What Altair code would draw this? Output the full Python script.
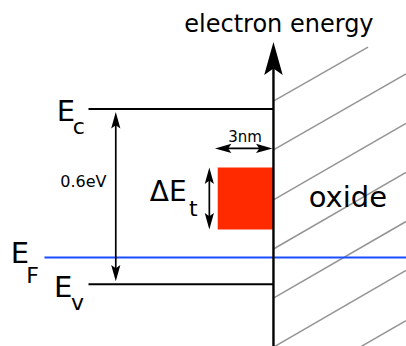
import altair as alt
import pandas as pd

# ---- energies in eV above the valence-band edge, positions in nm from the oxide interface ----
E_C = 0.6
E_V = 0.0
E_F = 0.092

# trap band next to the interface
TRAP_E = [0.188, 0.400]
TRAP_X = [-2.86, 0.0]

# tunnelling distance marker
TUNNEL_X = [-3.0, 0.0]
TUNNEL_E = 0.465

# horizontal extent of the band edges
BAND_X = [-9.49, 0.0]
FERMI_X = [-11.75, 6.8]

# vertical arrows
GAP_ARROW_X = -8.09
TRAP_ARROW_X = -3.29

# energy axis drawn at the interface
AXIS_E = [-0.211, 0.829]

# oxide hatching strokes (start / end)
HATCH_X0 = [0.0, 0.0, 0.0, 0.0, 0.0, 0.0, 0.0]
HATCH_Y0 = [0.627, 0.460, 0.289, 0.121, -0.047, -0.215, -0.386]
HATCH_X1 = [4.85, 6.8, 6.8, 6.8, 6.8, 6.8, 6.8]
HATCH_Y1 = [0.812, 0.720, 0.551, 0.383, 0.215, 0.048, -0.124]

# visible window of the diagram
X_DOMAIN = [-14.03, 6.8]
Y_DOMAIN = [-0.211, 0.973]
W, H = 406, 346
PX_PER_NM = W / (X_DOMAIN[1] - X_DOMAIN[0])
PX_PER_EV = H / (Y_DOMAIN[1] - Y_DOMAIN[0])

FONT = "DejaVu Sans"
HEAD = "M0,0L0.56,2L0,1.6L-0.56,2Z"   # arrowhead, tip at the origin, pointing up


def ev(px):
    return px / PX_PER_EV


def nm(px):
    return px / PX_PER_NM


xs = alt.Scale(domain=X_DOMAIN, nice=False, zero=False)
ys = alt.Scale(domain=Y_DOMAIN, nice=False, zero=False)


def seg_enc():
    return dict(
        x=alt.X("x0:Q", scale=xs, axis=None),
        x2="x1:Q",
        y=alt.Y("y0:Q", scale=ys, axis=None),
        y2="y1:Q",
    )


# hatching of the oxide
hatch = pd.DataFrame({"x0": HATCH_X0, "y0": HATCH_Y0, "x1": HATCH_X1, "y1": HATCH_Y1})
hatch_layer = alt.Chart(hatch).mark_rule(color="#959595", strokeWidth=1.5, clip=True).encode(**seg_enc())

# band edges and Fermi level
bands = pd.DataFrame({
    "x0": [BAND_X[0], BAND_X[0]],
    "x1": [BAND_X[1], BAND_X[1]],
    "y0": [E_C, E_V],
    "y1": [E_C, E_V],
})
band_layer = alt.Chart(bands).mark_rule(color="black", strokeWidth=2).encode(**seg_enc())

fermi = pd.DataFrame({"x0": [FERMI_X[0]], "x1": [FERMI_X[1]], "y0": [E_F], "y1": [E_F]})
fermi_layer = alt.Chart(fermi).mark_rule(color="#1a4dff", strokeWidth=2).encode(**seg_enc())

# trap states
trap = pd.DataFrame({"x0": [TRAP_X[0]], "x1": [TRAP_X[1]], "y0": [TRAP_E[0]], "y1": [TRAP_E[1]]})
trap_layer = alt.Chart(trap).mark_rect(color="#ff2a00").encode(**seg_enc())

# energy axis
axis_df = pd.DataFrame({"x0": [0.0], "x1": [0.0], "y0": [AXIS_E[0]], "y1": [AXIS_E[1] - ev(20)]})
axis_layer = alt.Chart(axis_df).mark_rule(color="black", strokeWidth=2.4).encode(**seg_enc())

# double arrows: gap, trap width, tunnelling distance
gap_lo, gap_hi = E_V + ev(3), E_C - ev(3)
tun_lo, tun_hi = TUNNEL_X[0], TUNNEL_X[1] - nm(1)
shafts = pd.DataFrame({
    "x0": [GAP_ARROW_X, TRAP_ARROW_X, tun_lo + nm(8)],
    "x1": [GAP_ARROW_X, TRAP_ARROW_X, tun_hi - nm(8)],
    "y0": [gap_lo + ev(8), TRAP_E[0] + ev(8), TUNNEL_E],
    "y1": [gap_hi - ev(8), TRAP_E[1] - ev(8), TUNNEL_E],
})
shaft_layer = alt.Chart(shafts).mark_rule(color="black", strokeWidth=1.7).encode(**seg_enc())

heads = pd.DataFrame({
    "x": [GAP_ARROW_X, GAP_ARROW_X, TRAP_ARROW_X, TRAP_ARROW_X, tun_lo, tun_hi],
    "y": [gap_hi, gap_lo, TRAP_E[1], TRAP_E[0], TUNNEL_E, TUNNEL_E],
    "angle": [0, 180, 0, 180, 270, 90],
})
head_layer = alt.Chart(heads).mark_point(
    shape=HEAD, filled=True, color="black", opacity=1, size=270
).encode(
    x=alt.X("x:Q", scale=xs, axis=None),
    y=alt.Y("y:Q", scale=ys, axis=None),
    angle=alt.Angle("angle:Q", scale=None),
)

axis_head = alt.Chart(pd.DataFrame({"x": [0.0], "y": [AXIS_E[1]]})).mark_point(
    shape=HEAD, filled=True, color="black", opacity=1, size=1089
).encode(
    x=alt.X("x:Q", scale=xs, axis=None),
    y=alt.Y("y:Q", scale=ys, axis=None),
)

# labels (baseline positions)
centered = pd.DataFrame({
    "text": ["electron energy", "oxide", "0.6eV", "3nm"],
    "x": [0.28, 3.82, -9.754, -1.46],
    "y": [0.8645, 0.263, 0.334, 0.488],
    "size": [24, 29, 16, 15],
})
symbols = pd.DataFrame({
    "text": ["E", "c", "E", "F", "E", "v", "ΔE", "t"],
    "x": [-11.123, -10.292, -13.482, -12.677, -11.256, -10.385, -6.344, -4.333],
    "y": [0.559, 0.513, 0.072, 0.003, -0.042, -0.088, 0.285, 0.235],
    "size": [29, 22, 29, 22, 29, 22, 28, 22],
})


def text_layer(df, align):
    return alt.Chart(df).mark_text(
        font=FONT, align=align, baseline="alphabetic", color="black"
    ).encode(
        x=alt.X("x:Q", scale=xs, axis=None),
        y=alt.Y("y:Q", scale=ys, axis=None),
        text="text:N",
        size=alt.Size("size:Q", scale=None),
    )


chart = alt.layer(
    hatch_layer,
    fermi_layer,
    band_layer,
    trap_layer,
    axis_layer,
    shaft_layer,
    head_layer,
    axis_head,
    text_layer(centered, "center"),
    text_layer(symbols, "left"),
).properties(
    width=W,
    height=H,
    padding=0,
    autosize=alt.AutoSizeParams(type="none"),
    background="white",
).configure_view(stroke=None)

chart.save("out.html", embed_options={"renderer": "svg", "actions": False})
